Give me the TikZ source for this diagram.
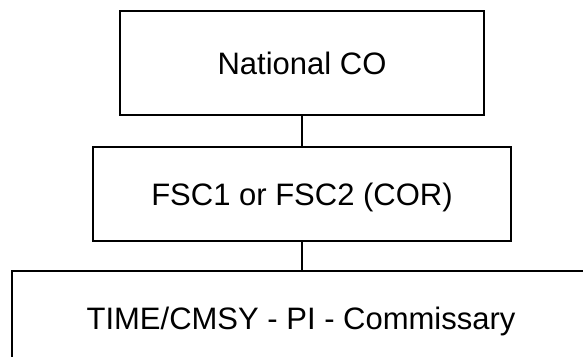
\documentclass[tikz,border=0pt]{standalone}
\usepackage{fontspec}
\setmainfont{Liberation Sans}
\begin{document}
\begin{tikzpicture}[x=1pt,y=-1pt,
  orgbox/.style={draw=black, line width=2pt, fill=white, inner sep=0pt,
    align=center, font=\fontsize{31}{36}\selectfont,
    text height=22pt, text depth=0pt},
  link/.style={draw=black, line width=2pt}]
  \useasboundingbox (0,0) rectangle (583,356);
  \clip (0,0) rectangle (583,356);
  % three levels of the chain of responsibility
  \node[orgbox, minimum width=364pt, minimum height=104pt] (national) at (302,63) {National CO};
  \node[orgbox, minimum width=418pt, minimum height=94pt] (fsc) at (302,194) {FSC1 or FSC2 (COR)};
  \node[orgbox, minimum width=578pt, minimum height=94pt] (time) at (301,318) {TIME/CMSY - PI - Commissary};
  % connectors between levels
  \draw[link] (national.south) -- (fsc.north);
  \draw[link] (fsc.south) -- (fsc.south |- time.north);
\end{tikzpicture}
\end{document}
